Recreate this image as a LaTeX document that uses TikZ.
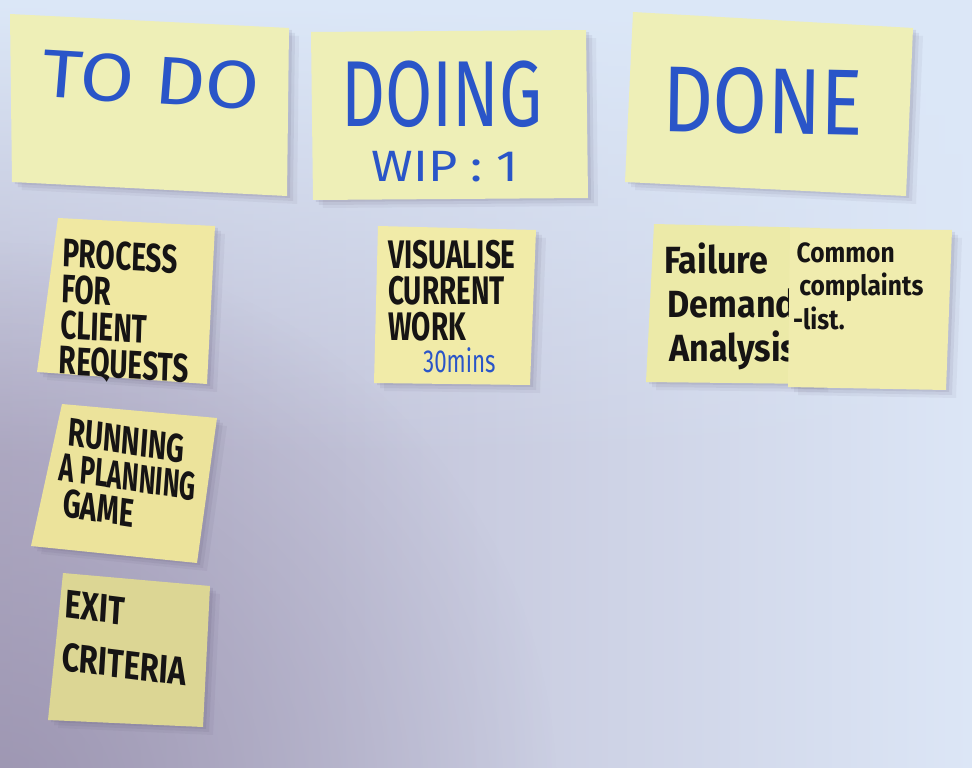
\documentclass[tikz,border=0pt]{standalone}
\usepackage{fontspec}
\setmainfont{Fira Sans}
\usetikzlibrary{fadings}
\tikzfading[name=softglow, inner color=transparent!0, outer color=transparent!100]
\definecolor{wallA}{HTML}{B6B2CA}
\definecolor{wallB}{HTML}{DCE6F6}
\definecolor{wallTop}{HTML}{DCE8F8}
\definecolor{wallDark}{HTML}{958DAA}
\definecolor{shadowc}{HTML}{4A4060}
\definecolor{headc}{HTML}{EEEFB7}
\definecolor{noteP}{HTML}{F0E8A2}
\definecolor{noteR}{HTML}{ECE39B}
\definecolor{noteE}{HTML}{DCD694}
\definecolor{noteV}{HTML}{F1EBA8}
\definecolor{noteF}{HTML}{ECEAA8}
\definecolor{noteC}{HTML}{F0ECAE}
\definecolor{ink}{HTML}{161414}
\definecolor{inkblue}{HTML}{2A55C8}
\newcommand\stickynote[5]{%
  \begin{scope}[shift={(10,-8)}]\fill[shadowc,opacity=0.06] (#2)--(#3)--(#4)--(#5)--cycle;\end{scope}
  \begin{scope}[shift={(6,-5)}]\fill[shadowc,opacity=0.08] (#2)--(#3)--(#4)--(#5)--cycle;\end{scope}
  \begin{scope}[shift={(3,-2)}]\fill[shadowc,opacity=0.10] (#2)--(#3)--(#4)--(#5)--cycle;\end{scope}
  \fill[#1] (#2)--(#3)--(#4)--(#5)--cycle;
}
\begin{document}
\begin{tikzpicture}[x=1bp,y=1bp,
  hd/.style={text=inkblue,inner sep=0pt},
  capsnote/.style={text=ink,inner sep=0pt,anchor=north west,align=left,font=\fontsize{40}{36}\selectfont\bfseries,xscale=0.7},
  lownote/.style={text=ink,inner sep=0pt,anchor=north west,align=left,font=\fontsize{38}{44}\selectfont\bfseries,xscale=0.9},
  smallnote/.style={text=ink,inner sep=0pt,anchor=north west,align=left,font=\fontsize{28}{34}\selectfont\bfseries,xscale=0.88}]
\useasboundingbox (0,0) rectangle (972,-768);
\shade[left color=wallA,right color=wallB] (0,0) rectangle (972,-768);
\fill[wallTop,path fading=south] (0,0) rectangle (972,-460);
\fill[wallDark,path fading=softglow,opacity=0.75] (0,-800) circle (560);

% header notes
\stickynote{headc}{10,-14}{289,-28}{287,-196}{12,-182}
\stickynote{headc}{311,-32}{586,-30}{588,-198}{313,-200}
\stickynote{headc}{633,-12}{913,-28}{906,-196}{625,-182}

\node[hd,font=\fontsize{68}{68}\selectfont,xscale=1.16,rotate=-4] (todo) at (151,-80) {TO DO};
\node[hd,font=\fontsize{94}{94}\selectfont,xscale=0.73] (doing) at (442,-94) {DOING};
\node[hd,font=\fontsize{44}{44}\selectfont,xscale=1.15] (wip) at (445,-167) {WIP : 1};
\node[hd,font=\fontsize{94}{94}\selectfont,xscale=0.84,rotate=-1] (done) at (763,-101) {DONE};

% to do column
\stickynote{noteP}{58,-218}{215,-226}{207,-384}{37,-372}
\node[capsnote,rotate=-2.5] (process) at (63,-238) {PROCESS\\FOR\\CLIENT\\REQUESTS};

\stickynote{noteR}{62,-404}{217,-418}{197,-563}{31,-546}
\node[capsnote,rotate=-6] (running) at (63,-416) {\hspace*{9bp}RUNNING\\\scalebox{0.9}[1]{A PLANNING}\\\hspace*{9bp}GAME};

\stickynote{noteE}{63,-573}{210,-586}{203,-727}{48,-720}
\node[capsnote,rotate=-5,xscale=1.1,font=\fontsize{40}{53}\selectfont\bfseries] (exit) at (66,-590) {EXIT\\CRITERIA};

% doing column
\stickynote{noteV}{378,-226}{536,-230}{530,-385}{374,-383}
\node[capsnote] (visualise) at (388,-240) {VISUALISE\\CURRENT\\WORK\\[-4bp]\hspace*{50bp}{\color{inkblue}\mdseries\fontsize{32}{32}\selectfont 30mins}};

% done column
\stickynote{noteF}{654,-224}{820,-228}{818,-384}{646,-382}
\node[lownote] (failure) at (664,-243) {Failure\\\hspace*{4bp}Demand\\\hspace*{6bp}Analysis};

\stickynote{noteC}{790,-228}{952,-230}{946,-390}{788,-387}
\node[smallnote] (common) at (793,-242) {\hspace*{4bp}Common\\\hspace*{7bp}complaints\\-list.};
\end{tikzpicture}
\end{document}
